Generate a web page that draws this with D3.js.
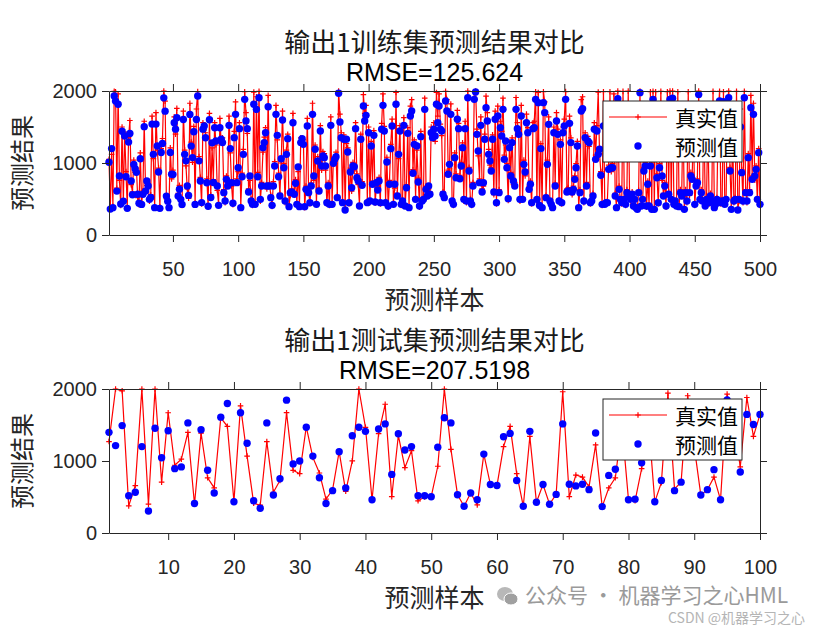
<!DOCTYPE html>
<html><head><meta charset="utf-8">
<script src="https://cdn.jsdelivr.net/npm/d3@7/dist/d3.min.js"></script>
<style>body{margin:0;background:#fff}svg{display:block}</style>
</head><body>
<svg id="c" width="840" height="630"></svg>
<script>
// ---------- data ----------
const trainTrue=[
1050,375,1120,400,1995,1990,650,1960,760,410,
1500,455,1430,880,385,1350,1590,700,600,1040,
870,930,520,420,1140,440,610,1580,640,690,
720,470,560,1650,1060,395,1700,1180,930,390,
1200,1340,1998,1860,500,450,400,1210,780,900,
1640,1400,1760,580,690,520,410,1720,1180,960,
640,510,1830,1290,1010,1510,440,1750,1992,1090,
800,430,1560,1460,1420,780,385,1690,560,1210,
770,
1560,1250,620,430,1620,1280,1350,630,450,820,
730,1650,1140,680,420,1440,1850,780,880,1560,
400,860,1190,1990,1700,1410,640,760,500,410,
1985,445,1920,870,1996,470,730,1150,1360,1490,
640,1940,720,550,395,740,1020,1800,1320,860,
580,1000,1720,990,450,1180,1400,410,550,640,
1690,600,770,440,880,405,1350,1290,1320,380,
680,1620,620,430,720,1830,760,1250,445,1090,
650,1520,900,1160,
1130,900,430,730,410,1640,440,1060,990,1150,
550,2000,1680,1420,470,1390,370,1270,1210,430,
930,610,1010,890,1560,850,700,420,1400,740,
1950,1690,1800,470,1500,450,1300,750,1450,440,
690,670,800,430,1550,1960,1510,470,1080,385,
760,1260,1610,440,650,1980,580,1060,1520,410,
450,1630,420,700,1490,395,1790,1880,910,1320,
520,1180,790,385,1440,490,470,1900,680,580,
640,600,1500,1410,
1560,1300,1980,1650,1960,1540,1380,600,540,1995,
1880,900,920,1820,450,410,1140,850,1730,1550,
830,1010,1280,470,1580,450,1998,940,500,410,
730,1990,2000,1470,1100,780,1640,640,680,1400,
1930,1700,1190,970,940,1390,560,1720,430,1790,
630,1580,1440,1900,1110,1250,990,480,1290,870,
1350,700,730,1910,1560,1470,470,1800,520,1040,
820,1680,1490,680,750,430,1560,1580,1990,470,
1980,430,1270,395,
1990,1850,550,1040,1640,450,440,400,1500,720,
1700,1470,490,1320,430,1500,1610,1992,640,660,
1650,1350,560,680,820,990,1300,395,630,1880,
1920,450,1420,730,1370,1230,430,490,580,1560,
1110,1520,1985,1130,880,410,1990,440,430,470,
970,1990,880,990,1960,580,395,2000,680,470,
430,1995,520,410,630,1998,580,470,600,385,
470,395,370,620,2000,420,470,940,1010,385,
750,420,1990,375,
1995,375,1990,850,430,990,1995,760,580,730,
385,1990,600,2000,470,1998,440,450,420,1990,
410,630,580,1700,375,630,450,1990,550,870,
820,1500,410,720,780,2000,470,630,490,1800,
420,470,1600,430,580,450,1995,395,410,520,
1700,1995,430,490,1990,440,470,1850,1998,940,
375,1450,450,520,1995,365,470,1750,910,450,
1995,630,450,1130,630,1940,820,1830,760,960,
470,1200,410];
const trainPred=[
1010,360,1200,380,1930,1860,610,1815,820,430,
1440,470,1375,810,370,1290,1410,750,560,980,
920,870,565,440,1060,425,565,1505,610,750,
680,495,520,1540,1120,380,1540,1236,875,370,
1145,1270,1905,1720,540,470,380,1145,845,840,
1560,1470,1630,540,635,495,425,1605,1120,1030,
680,550,1675,1235,1075,1435,425,1605,1930,1030,
750,450,1470,1515,1350,725,400,1600,520,1280,
730,
1490,1305,680,412,1490,1330,1283,588,472,773,
680,1523,1200,727,440,1352,1676,727,935,1477,
380,810,1120,1884,1583,1477,597,819,472,426,
1815,426,1745,810,1907,495,680,1213,1283,1421,
680,1782,680,519,412,680,958,1676,1384,810,
542,1060,1597,935,472,1120,1338,394,588,597,
1560,565,718,426,944,394,1283,1338,1259,394,
634,1514,588,449,680,1676,819,1190,426,1028,
611,1444,958,1097,
1074,958,449,680,426,1523,426,995,1051,1088,
519,1968,1570,1352,449,1329,347,1329,1153,449,
875,657,958,949,1477,796,750,403,1329,690,
1792,1583,1662,449,1421,472,1236,704,1384,458,
727,625,750,449,1468,1801,1444,449,1014,403,
704,1199,1514,426,704,1815,542,1120,1444,426,
472,1523,403,657,1412,380,1653,1722,857,1259,
495,1236,736,403,1366,472,495,1745,634,542,
680,565,1421,1352,
1468,1375,1815,1560,1792,1468,1444,565,519,1861,
1722,843,981,1676,472,426,1074,796,1607,1477,
782,958,1213,495,1477,472,1907,889,472,426,
680,1884,1986,1398,1167,727,1523,597,727,1329,
1768,1583,1120,1028,889,1329,597,1607,449,1653,
588,1491,1375,1745,1051,1306,935,505,1213,819,
1283,750,680,1745,1477,1398,495,1653,495,981,
875,1560,1421,634,704,449,1477,1491,1884,495,
1838,410,1200,380,
1838,1699,519,981,1537,472,426,380,1421,680,
1583,1398,472,1259,449,1421,1514,1884,597,611,
1551,1283,597,634,773,935,1236,380,588,1722,
1755,472,1352,680,1306,1283,449,472,542,1468,
1051,1444,1120,1190,829,426,1514,426,449,449,
912,1650,935,935,1400,542,380,1893,634,495,
449,1550,495,426,588,1750,542,495,565,403,
495,380,356,588,1977,403,495,889,958,403,
704,403,958,356,
1884,356,1500,796,449,935,1700,819,542,680,
403,1300,565,1884,495,1900,426,472,403,1600,
394,588,542,1450,356,588,472,1800,588,819,
773,1250,426,680,727,1950,495,588,472,1550,
403,495,1350,449,542,472,1700,380,426,495,
1400,1861,449,472,1850,426,495,1600,1907,889,
356,1200,472,495,1750,347,495,1500,866,472,
1907,588,472,1074,588,1768,773,1676,819,912,
495,1144,426];
const testTrue=[
1270,2000,1975,376,659,2000,400,2000,706,1670,
941,1026,1398,400,1388,767,626,1600,1482,438,
1765,1068,414,386,1270,565,730,1671,871,824,
1473,1050,833,470,600,1130,579,1002,2000,1468,
461,1379,1788,504,1355,908,1143,447,500,504,
927,2000,1162,532,372,555,390,1096,673,659,
1200,1482,824,372,1341,428,673,400,536,1962,
504,805,776,640,1223,367,626,767,1500,461,
447,894,1600,433,700,1943,612,706,1906,1200,
527,602,776,461,1929,1500,918,1882,1341,1647];
const testPred=[
1398,1214,1492,518,565,1200,306,1454,1045,1421,
894,918,1529,409,1435,871,555,1609,1798,433,
1671,1247,447,344,1529,527,753,1845,960,1000,
1468,1068,767,409,588,1130,626,1350,1468,1412,
461,1445,1515,814,1379,1153,1200,518,518,504,
1191,1600,1529,532,372,555,461,1096,673,659,
1336,1383,729,372,1412,428,673,400,536,1515,
678,654,678,602,1388,367,800,885,1350,461,
470,974,1500,433,729,1400,588,706,1450,1150,
527,602,880,461,1849,1400,847,1647,1506,1647];
const trainXTicks=[50,100,150,200,250,300,350,400,450,500];
const testXTicks=[10,20,30,40,50,60,70,80,90,100];
const yTicks=[0,1000,2000];
const seriesNames=["真实值","预测值"];
const panels=[
 {title:"输出1训练集预测结果对比",sub:"RMSE=125.624",tr:trainTrue,pr:trainPred,xt:trainXTicks,top:91,bot:235},
 {title:"输出1测试集预测结果对比",sub:"RMSE=207.5198",tr:testTrue,pr:testPred,xt:testXTicks,top:389,bot:533}
];
// ---------- drawing ----------
const svg=d3.select("#c");
const L=109,R=760, AX="#262626";
const numFont="'Liberation Sans',Arial,sans-serif";
const cjkFont="'Noto Sans CJK SC','Liberation Sans',sans-serif";
panels.forEach(p=>{
  const n=p.tr.length;
  const x=d3.scaleLinear().domain([1,n]).range([L,R]);
  const y=d3.scaleLinear().domain([0,2000]).range([p.bot,p.top]);
  const g=svg.append("g");
  // data
  const line=d3.line().x((d,i)=>x(i+1)).y(d=>y(d));
  g.append("path").datum(p.tr).attr("d",line).attr("fill","none").attr("stroke","#ff0000").attr("stroke-width",1.2);
  g.append("g").selectAll("path").data(p.tr).join("path")
    .attr("d",(d,i)=>{const cx=x(i+1),cy=y(d),s=2.8;return `M${cx-s},${cy}H${cx+s}M${cx},${cy-s}V${cy+s}`;})
    .attr("stroke","#ff0000").attr("stroke-width",1.2);
  g.append("g").selectAll("circle").data(p.pr).join("circle")
    .attr("cx",(d,i)=>x(i+1)).attr("cy",d=>y(d)).attr("r",3.7).attr("fill","#0000ff");
  // axes
  const ax=[
    d3.axisBottom(x).tickValues(p.xt).tickSize(7).tickSizeOuter(0).tickPadding(20).tickFormat(d3.format("d")),
    d3.axisTop(x).tickValues(p.xt).tickSize(7).tickSizeOuter(0).tickFormat(""),
    d3.axisLeft(y).tickValues(yTicks).tickSize(7).tickSizeOuter(0).tickPadding(5).tickFormat(d3.format("d")),
    d3.axisRight(y).tickValues(yTicks).tickSize(7).tickSizeOuter(0).tickFormat("")
  ];
  const tr=[`translate(0,${p.bot})`,`translate(0,${p.top})`,`translate(${L},0)`,`translate(${R},0)`];
  ax.forEach((a,k)=>{
    const ag=g.append("g").attr("transform",tr[k]).call(a);
    ag.selectAll("path,line").attr("stroke",AX).attr("stroke-width",1);
    ag.selectAll("text").attr("fill",AX).style("font-family",numFont).style("font-size","20px");
  });
  // titles & labels
  g.append("text").attr("x",(L+R)/2).attr("y",p.top-51).attr("text-anchor","middle").attr("dominant-baseline","central")
    .style("font-family",cjkFont).style("font-size","26px").attr("fill","#1a1a1a").text(p.title);
  g.append("text").attr("x",(L+R)/2).attr("y",p.top-19).attr("text-anchor","middle").attr("dominant-baseline","central")
    .style("font-family",numFont).style("font-size","25px").attr("fill","#000").text(p.sub);
  g.append("text").attr("x",(L+R)/2).attr("y",p.bot+63).attr("text-anchor","middle").attr("dominant-baseline","central")
    .style("font-family",cjkFont).style("font-size","25px").attr("fill",AX).text("预测样本");
  g.append("text").attr("transform",`translate(20,${(p.top+p.bot)/2}) rotate(-90)`).attr("text-anchor","middle").attr("dominant-baseline","central")
    .style("font-family",cjkFont).style("font-size","24px").attr("fill",AX).text("预测结果");
  // legend
  const lg=g.append("g").attr("transform",`translate(603,${p.top+10})`);
  lg.append("rect").attr("width",139).attr("height",61).attr("fill","#fff").attr("stroke",AX).attr("stroke-width",1);
  lg.append("line").attr("x1",6).attr("x2",64).attr("y1",16).attr("y2",16).attr("stroke","#ff0000").attr("stroke-width",1.2);
  lg.append("path").attr("d","M32.2,16H37.8M35,13.2V18.8").attr("stroke","#ff0000").attr("stroke-width",1.2);
  lg.append("circle").attr("cx",35).attr("cy",45).attr("r",3.7).attr("fill","#0000ff");
  seriesNames.forEach((s,k)=>lg.append("text").attr("x",72).attr("y",16+k*29).attr("dominant-baseline","central")
    .style("font-family",cjkFont).style("font-size","21px").attr("fill","#000").text(s));
});
// watermark
const wm=svg.append("g").attr("transform","translate(507,596)");
wm.append("ellipse").attr("cx",-2).attr("cy",-2).attr("rx",8).attr("ry",7).attr("fill","#b8b8b8");
wm.append("ellipse").attr("cx",4).attr("cy",3).attr("rx",7).attr("ry",6).attr("fill","#a0a0a0").attr("stroke","#fff").attr("stroke-width",1);
svg.append("text").attr("x",525).attr("y",594).attr("dominant-baseline","central")
  .style("font-family",cjkFont).style("font-size","21px").attr("fill","#9a9a9a").text("公众号 · 机器学习之心HML");
svg.append("text").attr("x",668).attr("y",617).attr("dominant-baseline","central")
  .style("font-family",cjkFont).style("font-size","14px").attr("fill","#b5b5b5").text("CSDN @机器学习之心");
</script>
</body></html>
